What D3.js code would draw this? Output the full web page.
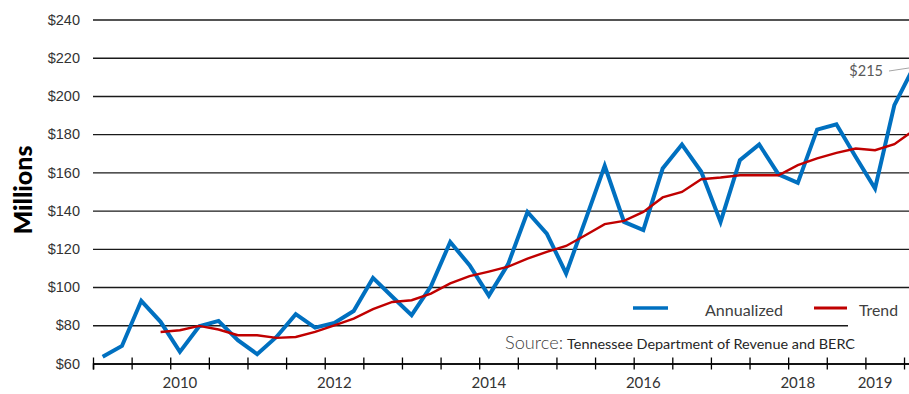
<!DOCTYPE html>
<html>
<head>
<meta charset="utf-8">
<script src="https://cdn.jsdelivr.net/npm/d3@7/dist/d3.min.js"></script>
<style>
  body { margin: 0; background: #fff; }
  svg { display: block; font-family: Lato, "Noto Sans", sans-serif; }
  .gridlines line { stroke: #1a1a1a; stroke-width: 1.4; }
  .gridlines text { fill: #333; font-size: 14.5px; }
  .gridlines .domain { display: none; }
</style>
</head>
<body>
<script>
// quarterly categories, 2009 Q1 .. 2019 Q3
var quarters = [];
for (var yr = 2009; yr <= 2019; yr++) {
    ["Q1", "Q2", "Q3", "Q4"].forEach(function (q) { quarters.push(yr + " " + q); });
}
quarters = quarters.slice(0, 43);

var annualized = [63.5, 69.2, 92.8, 81.8, 66.1, 79.5, 82.3, 72.2, 64.9, 73.9,
    85.8, 78.8, 81.2, 87.5, 104.8, 94.9, 85.3, 100.4, 123.6, 111.4,
    95.5, 112, 139.3, 128, 107.1, 135, 163.4, 134.1, 129.8, 162,
    174.6, 160.3, 134.1, 166.4, 174.6, 159, 154.5, 182.4, 185.2, 168.1,
    151.6, 195.2, 215];

var trend = [null, null, null, 76.5, 77.4, 79.7, 77.8, 74.8, 74.8, 73.4,
    73.9, 76.5, 80, 83.5, 88.4, 92.2, 93.1, 96.6, 101.9, 105.7,
    108.1, 110.7, 114.9, 118.4, 121.5, 127.1, 132.9, 134.6, 139.3, 146.9,
    149.8, 156.4, 157.3, 158.5, 158.5, 158.5, 163.8, 167.3, 170.2, 172.5,
    171.6, 174.8, 182];

var yTicks = [60, 80, 100, 120, 140, 160, 180, 200, 220, 240];
var xLabels = [{q: "2010 Q1", label: "2010"}, {q: "2012 Q1", label: "2012"},
    {q: "2014 Q1", label: "2014"}, {q: "2016 Q1", label: "2016"},
    {q: "2018 Q1", label: "2018"}, {q: "2019 Q1", label: "2019"}];

var width = 909, height = 394;
var left = 93, step = 19.31;
var right = left + quarters.length * step;

var svg = d3.select("body").append("svg")
    .attr("width", width)
    .attr("height", height);

var xScale = d3.scaleLinear()
    .domain([0, quarters.length])
    .range([left, right]);

var yScale = d3.scaleLinear()
    .domain([60, 240])
    .range([363.5, 19.5]);

function xAt(i) { return xScale(i + 0.5); }

// gridlines + dollar labels
var yGridlines = d3.axisLeft(yScale)
    .tickValues(yTicks)
    .tickSize(-(right - left))
    .tickPadding(13)
    .tickFormat(function (d) { return "$" + d; });

svg.append("g")
    .attr("class", "gridlines")
    .attr("transform", "translate(" + left + ",0)")
    .call(yGridlines);

// x axis with crossing ticks every half year
var xAxis = d3.axisBottom(xScale)
    .tickValues(d3.range(0, quarters.length, 2))
    .tickFormat("")
    .tickSize(6);

var xg = svg.append("g")
    .attr("transform", "translate(0," + yScale(60) + ")")
    .call(xAxis);
xg.select(".domain").attr("stroke", "#000").attr("stroke-width", 1.5);
xg.selectAll(".tick line").attr("y1", -6).attr("y2", 6)
    .attr("stroke", "#000").attr("stroke-width", 1.3);

svg.append("g").selectAll("text")
    .data(xLabels)
    .enter().append("text")
    .attr("x", function (d) { return xAt(quarters.indexOf(d.q)); })
    .attr("y", 388)
    .attr("text-anchor", "middle")
    .attr("fill", "#333")
    .style("font-size", "15px")
    .text(function (d) { return d.label; });

// y axis title
svg.append("text")
    .attr("transform", "translate(32,190) rotate(-90)")
    .attr("text-anchor", "middle")
    .style("font-size", "25px")
    .style("font-weight", 900)
    .attr("fill", "#000")
    .text("Millions");

// lines
var line = d3.line()
    .defined(function (d) { return d != null; })
    .x(function (d, i) { return xAt(i); })
    .y(function (d) { return yScale(d); });

svg.append("path")
    .datum(annualized)
    .attr("fill", "none")
    .attr("stroke", "#0070C0")
    .attr("stroke-width", 4)
    .attr("stroke-linejoin", "miter")
    .attr("d", line);

svg.append("path")
    .datum(trend)
    .attr("fill", "none")
    .attr("stroke", "#C00000")
    .attr("stroke-width", 2.4)
    .attr("d", line);

// last value callout
var lastI = annualized.length - 1;
svg.append("line")
    .attr("x1", 889).attr("y1", 71)
    .attr("x2", xAt(lastI)).attr("y2", yScale(annualized[lastI]))
    .attr("stroke", "#a6a6a6")
    .attr("stroke-width", 1);

svg.append("text")
    .attr("x", 883)
    .attr("y", 75.5)
    .attr("text-anchor", "end")
    .attr("fill", "#595959")
    .style("font-size", "14.5px")
    .text("$" + annualized[lastI]);

// legend box
svg.append("rect")
    .attr("x", 848).attr("y", 293)
    .attr("width", 70).attr("height", 35)
    .attr("fill", "#fff");

var legend = [{name: "Annualized", color: "#0070C0", x1: 633, x2: 668, tx: 705, len: 78, w: 3.5},
    {name: "Trend", color: "#C00000", x1: 814, x2: 847, tx: 859, len: 39, w: 3}];

var lg = svg.append("g").selectAll("g")
    .data(legend)
    .enter().append("g");

lg.append("line")
    .attr("x1", function (d) { return d.x1; })
    .attr("x2", function (d) { return d.x2; })
    .attr("y1", 308).attr("y2", 308)
    .attr("stroke", function (d) { return d.color; })
    .attr("stroke-width", function (d) { return d.w; });

lg.append("text")
    .attr("x", function (d) { return d.tx; })
    .attr("y", 315.5)
    .attr("fill", "#404040")
    .style("font-size", "15px")
    .attr("textLength", function (d) { return d.len; })
    .attr("lengthAdjust", "spacingAndGlyphs")
    .text(function (d) { return d.name; });

// source note
var src = svg.append("text")
    .attr("x", 505)
    .attr("y", 349)
    .attr("fill", "#262626");

src.append("tspan")
    .style("font-size", "17px")
    .style("font-weight", 300)
    .attr("fill", "#404040")
    .attr("textLength", 58)
    .attr("lengthAdjust", "spacingAndGlyphs")
    .text("Source:");

src.append("tspan")
    .attr("x", 567)
    .style("font-size", "13.5px")
    .attr("textLength", 288)
    .attr("lengthAdjust", "spacingAndGlyphs")
    .text("Tennessee Department of Revenue and BERC");
</script>
</body>
</html>
